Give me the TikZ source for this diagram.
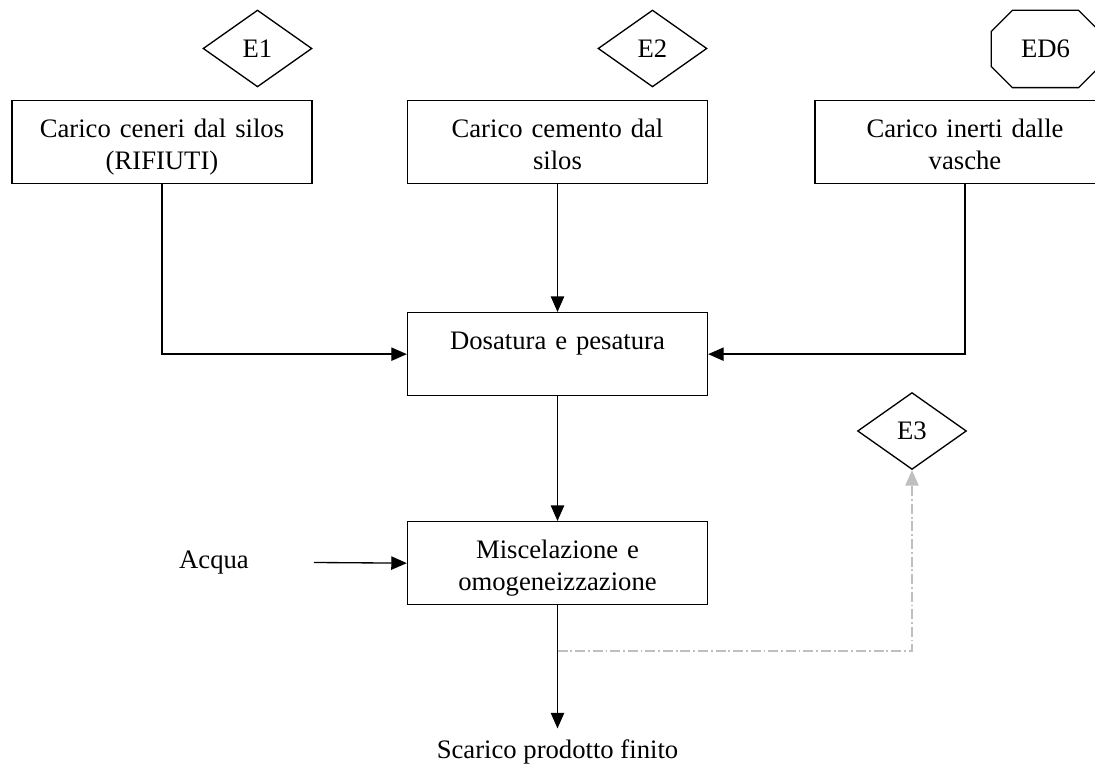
\documentclass[tikz,border=0pt]{standalone}
\usepackage{fontspec}
\setmainfont{Liberation Serif}
\usetikzlibrary{arrows.meta}
\usetikzlibrary{shapes.geometric}

\begin{document}
\begin{tikzpicture}[>={Triangle[length=7pt,width=6pt]}, x=0.45pt, y=-0.45pt, line width=0.6pt,
		font=\fontsize{12}{14.4}\selectfont,
		blocco/.style={draw, anchor=north, text width=135pt, align=center, inner sep=0pt, text height=16.65pt, text depth=20.7pt},
		emissione/.style={draw, diamond, minimum width=49pt, minimum height=34.6pt, inner sep=0pt},
		diffusa/.style={minimum width=48.2pt, minimum height=34.2pt, inner sep=0pt},
		tratteggio/.style={draw=black!25, line width=0.5pt, dash pattern=on 4.5pt off 1.3pt on 0.8pt off 1.3pt}]
			\clip (0,0) rectangle (1095,769);
			
			% Draw the boxes
			\node[blocco] (ceneri) at (162,100) {Carico ceneri dal silos\\(RIFIUTI)};
			\node[blocco] (cemento) at (557.5,100) {Carico cemento dal\\silos};
			\node[blocco] (inerti) at (965,100) {Carico inerti dalle\\vasche};
			\node[blocco] (dosatura) at (557.5,312) {Dosatura e pesatura};
			\node[blocco] (miscelazione) at (557.5,521) {Miscelazione e\\omogeneizzazione};
			
			% Draw the emission points
			\node[emissione] (e1) at (257.5,48.5) {E1};
			\node[emissione] (e2) at (652.5,48.5) {E2};
			\node[emissione] (e3) at (912,431) {E3};
			\node[diffusa] (ed6) at (1045.5,49) {ED6};
			\draw ([xshift=9.5pt]ed6.north west) -- ([xshift=-9.5pt]ed6.north east) -- ([yshift=-9.5pt]ed6.north east)
				-- ([yshift=9.5pt]ed6.south east) -- ([xshift=-9.5pt]ed6.south east) -- ([xshift=9.5pt]ed6.south west)
				-- ([yshift=9.5pt]ed6.south west) -- ([yshift=-9.5pt]ed6.north west) -- cycle;
			
			% Draw inputs and outputs
			\node (acqua) at (214,563) {Acqua};
			\coordinate (ingresso) at (314,562.5);
			\node[anchor=base, inner ysep=5pt] (scarico) at (557.5,759) {Scarico prodotto finito};
			\coordinate (diramazione) at (557.5,651);
			
			% Draw the flows
			\draw[->] (ceneri.south) |- (dosatura.west);
			\draw[->] (cemento) -- (dosatura);
			\draw[->] (inerti.south) |- (dosatura.east);
			\draw[->] (dosatura) -- (miscelazione);
			\draw[->] (ingresso) -- (miscelazione.west);
			\draw[->] (miscelazione) -- (scarico);
			\draw[tratteggio, ->] (diramazione) -| (e3.south);
			
		\end{tikzpicture}
\end{document}
